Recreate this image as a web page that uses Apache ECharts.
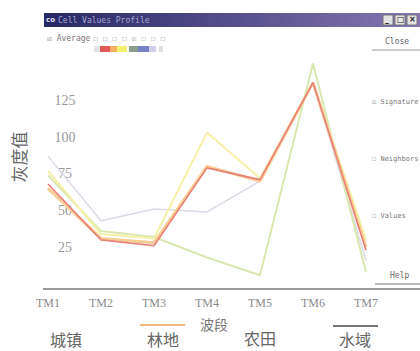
<!DOCTYPE html>
<html>
<head>
  <meta charset="utf-8">
  <title>Cell Values Profile</title>
  <script src="https://cdn.jsdelivr.net/npm/echarts@6/dist/echarts.min.js"></script>
  <style>
    html, body { margin: 0; padding: 0; background: #fff; }
  </style>
</head>
<body>
<div id="main" style="width: 420px;height:351px;"></div>
<script type="text/javascript">
  // 波段
  var bands = ['TM1', 'TM2', 'TM3', 'TM4', 'TM5', 'TM6', 'TM7'];
  // 各条剖面线的灰度值
  var redLine    = [68, 30, 26, 79, 71, 137, 23];
  var orangeLine = [65, 31, 28, 80, 70, 137, 25];
  var yellowLine = [77, 34, 31, 103, 72, 137, 30];
  var greenLine  = [74, 36, 32, 18, 6, 150, 8];
  var grayLine   = [87, 43, 51, 49, 70, 137, 16];
  var yTicks = [25, 50, 75, 100, 125];
  // 图下方的类别文字
  var classNames = ['城镇', '林地', '农田', '水域'];

  var chartDom = document.getElementById('main');
  var myChart = echarts.init(chartDom, null, {renderer: 'svg'});
  var option;

  function line(data, color, width) {
    return {
      type: 'line',
      data: data,
      symbol: 'none',
      lineStyle: {color: color, width: width},
      z: 3
    };
  }

  var small = '8px "DejaVu Sans Mono"';
  var side = '7px "DejaVu Sans Mono"';
  var cjk = '16px "Noto Sans CJK SC"';

  option = {
    animation: false,
    backgroundColor: '#fff',
    grid: {left: 48, right: 54, top: 63.5, bottom: 67},
    xAxis: {
      type: 'category',
      data: bands,
      boundaryGap: false,
      offset: 5,
      axisLine: {show: false},
      axisTick: {show: false},
      axisLabel: {color: '#8a8a8a', fontFamily: 'Liberation Serif', fontSize: 12, margin: 8},
      splitLine: {show: false}
    },
    yAxis: {
      type: 'value',
      min: 0,
      max: 150,
      interval: 25,
      axisLine: {show: false},
      axisTick: {show: false},
      splitLine: {show: false},
      axisLabel: {
        inside: true,
        align: 'center',
        margin: 17,
        color: '#999',
        fontFamily: 'Liberation Serif',
        fontSize: 14,
        formatter: function (v) { return yTicks.indexOf(v) >= 0 ? String(v) : ''; }
      }
    },
    series: [
      line(grayLine, '#dcd8e6', 1.5),
      line(greenLine, '#d8e8b0', 2),
      line(yellowLine, '#f6f0a6', 2),
      line(orangeLine, '#f7cd94', 3),
      line(redLine, '#e8807a', 1.6)
    ],
    graphic: [
      // 标题栏
      {type: 'rect', shape: {x: 44, y: 13, width: 376, height: 14},
        style: {fill: new echarts.graphic.LinearGradient(0, 0, 1, 0, [
          {offset: 0, color: '#262866'}, {offset: 1, color: '#8676b0'}])}},
      {type: 'text', x: 46, y: 16, style: {text: 'co', font: 'bold 7px "DejaVu Sans"', fill: '#e0e0f0'}},
      {type: 'text', x: 58, y: 16, style: {text: 'Cell Values Profile', font: small, fill: '#a8a8cc'}},
      {type: 'rect', shape: {x: 383, y: 15, width: 10, height: 10}, style: {fill: '#e4e4e4', stroke: '#777'}},
      {type: 'rect', shape: {x: 395, y: 15, width: 10, height: 10}, style: {fill: '#e4e4e4', stroke: '#777'}},
      {type: 'rect', shape: {x: 407, y: 15, width: 10, height: 10}, style: {fill: '#e4e4e4', stroke: '#777'}},
      {type: 'text', x: 385, y: 15, style: {text: '_', font: 'bold 8px "DejaVu Sans"', fill: '#222'}},
      {type: 'text', x: 397, y: 15, style: {text: '□', font: 'bold 8px "DejaVu Sans"', fill: '#222'}},
      {type: 'text', x: 409, y: 15, style: {text: '×', font: 'bold 8px "DejaVu Sans"', fill: '#222'}},
      // 选项行
      {type: 'text', x: 47, y: 34, style: {text: '☑ Average', font: small, fill: '#777'}},
      {type: 'text', x: 93, y: 34, style: {text: '☐ ☐ ☐ ☐ ☑ ☐ ☐ ☐', font: small, fill: '#999'}},
      {type: 'rect', shape: {x: 94, y: 46, width: 6, height: 6}, style: {fill: '#e4e4e8'}},
      {type: 'rect', shape: {x: 100, y: 46, width: 10, height: 6}, style: {fill: '#e05a58'}},
      {type: 'rect', shape: {x: 110, y: 46, width: 7, height: 6}, style: {fill: '#f2b060'}},
      {type: 'rect', shape: {x: 117, y: 46, width: 10, height: 6}, style: {fill: '#f4f070'}},
      {type: 'rect', shape: {x: 129, y: 46, width: 9, height: 6}, style: {fill: '#8a9c8a'}},
      {type: 'rect', shape: {x: 138, y: 46, width: 11, height: 6}, style: {fill: '#7682c4'}},
      {type: 'rect', shape: {x: 149, y: 46, width: 7, height: 6}, style: {fill: '#cfcfe8'}},
      {type: 'rect', shape: {x: 159, y: 46, width: 4, height: 6}, style: {fill: '#e0e0e0'}},
      {type: 'text', x: 385, y: 37, style: {text: 'Close', font: small, fill: '#666'}},
      {type: 'line', shape: {x1: 372, y1: 50, x2: 420, y2: 50}, style: {stroke: '#999', lineWidth: 1}},
      // 右侧选项
      {type: 'text', x: 372, y: 98, style: {text: '☑ Signature', font: side, fill: '#777'}},
      {type: 'text', x: 372, y: 155, style: {text: '☐ Neighbors', font: side, fill: '#777'}},
      {type: 'text', x: 372, y: 212, style: {text: '☐ Values', font: side, fill: '#777'}},
      {type: 'text', x: 390, y: 271, style: {text: 'Help', font: small, fill: '#666'}},
      {type: 'line', shape: {x1: 375, y1: 284, x2: 420, y2: 284}, style: {stroke: '#777', lineWidth: 1}},
      // 横线
      {type: 'line', shape: {x1: 43, y1: 289, x2: 420, y2: 289}, style: {stroke: '#777', lineWidth: 1.5}},
      // 纵轴名称
      {type: 'text', x: 18, y: 157, rotation: Math.PI / 2,
        style: {text: '灰度值', font: '17px "Noto Sans CJK SC"', fill: '#666', align: 'center', verticalAlign: 'middle'}},
      // 下方类别说明
      {type: 'text', x: 66, y: 339, style: {text: classNames[0], font: cjk, fill: '#666', align: 'center', verticalAlign: 'middle'}},
      {type: 'text', x: 163, y: 339, style: {text: classNames[1], font: cjk, fill: '#666', align: 'center', verticalAlign: 'middle'}},
      {type: 'text', x: 260, y: 338, style: {text: classNames[2], font: cjk, fill: '#666', align: 'center', verticalAlign: 'middle'}},
      {type: 'text', x: 355, y: 339, style: {text: classNames[3], font: cjk, fill: '#666', align: 'center', verticalAlign: 'middle'}},
      {type: 'text', x: 214, y: 324, style: {text: '波段', font: '14px "Noto Sans CJK SC"', fill: '#777', align: 'center', verticalAlign: 'middle'}},
      {type: 'line', shape: {x1: 140, y1: 325, x2: 185, y2: 325}, style: {stroke: '#f2b676', lineWidth: 2}},
      {type: 'line', shape: {x1: 333, y1: 326, x2: 378, y2: 326}, style: {stroke: '#777', lineWidth: 2}}
    ]
  };

  option && myChart.setOption(option);
</script>
</body>
</html>
